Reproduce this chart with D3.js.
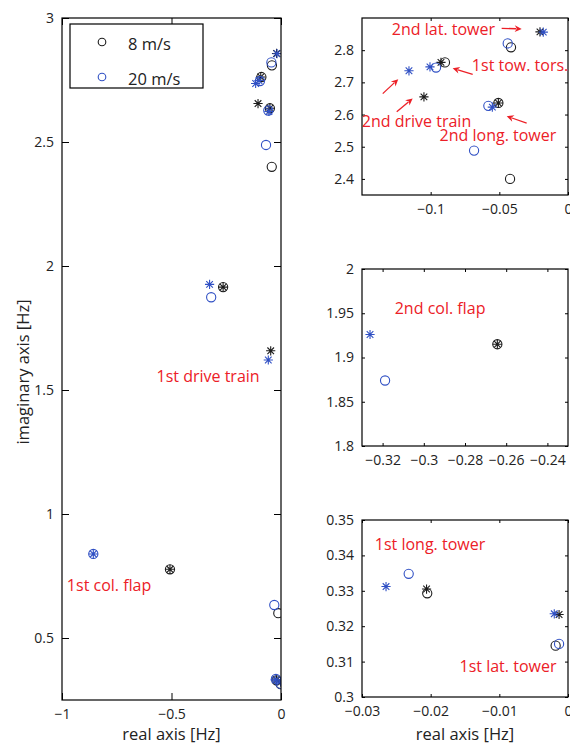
<!DOCTYPE html>
<html>
<head>
<meta charset="utf-8">
<script src="https://cdn.jsdelivr.net/npm/d3@7"></script>
<style>
  html, body { margin: 0; padding: 0; background: #fff; }
  svg { display: block; font-family: "Open Sans", "DejaVu Sans", sans-serif; }
</style>
</head>
<body>
<svg id="chart" width="570" height="744"></svg>
<script>
// Eigenvalues [real part, imaginary part] in Hz
const legendLabels = ["8 m/s", "20 m/s"];

const circles8 = [
  [-0.0018, 0.3145], [-0.0205, 0.3293], [-0.0123, 0.600], [-0.507, 0.777],
  [-0.2643, 1.915], [-0.0422, 2.400], [-0.0507, 2.636], [-0.0896, 2.762],
  [-0.0415, 2.809]
];
const stars8 = [
  [-0.0013, 0.3233], [-0.0206, 0.3305], [-0.507, 0.777], [-0.047, 1.658],
  [-0.2643, 1.915], [-0.1049, 2.655], [-0.0507, 2.636], [-0.0925, 2.762],
  [-0.0204, 2.857]
];
const circles20 = [
  [-0.0013, 0.3150], [-0.0232, 0.3348], [-0.0306, 0.633], [-0.857, 0.839],
  [-0.3188, 1.874], [-0.0684, 2.488], [-0.0580, 2.627], [-0.0961, 2.746],
  [-0.0439, 2.821]
];
const stars20 = [
  [-0.0020, 0.3235], [-0.0265, 0.3312], [-0.857, 0.839], [-0.058, 1.621],
  [-0.3261, 1.926], [-0.0551, 2.623], [-0.1005, 2.748], [-0.1158, 2.736],
  [-0.0180, 2.856]
];

// Axis tick values
const mainXTicks = [-1, -0.5, 0];
const mainYTicks = [0.5, 1, 1.5, 2, 2.5, 3];
const topXTicks = [-0.1, -0.05, 0];
const topYTicks = [2.4, 2.5, 2.6, 2.7, 2.8];
const midXTicks = [-0.32, -0.3, -0.28, -0.26, -0.24];
const midYTicks = [1.8, 1.85, 1.9, 1.95, 2];
const lowXTicks = [-0.03, -0.02, -0.01, 0];
const lowYTicks = [0.3, 0.31, 0.32, 0.33, 0.34, 0.35];

// Mode labels: [text, real, imag] (text centre in data units)
const mainNotes = [["1st drive train", -0.333, 1.556], ["1st col. flap", -0.785, 0.714]];
const topNotes = [
  ["2nd lat. tower", -0.0907, 2.866], ["1st tow. tors.", -0.0349, 2.752],
  ["2nd drive train", -0.1103, 2.580], ["2nd long. tower", -0.0510, 2.536]
];
const midNotes = [["2nd col. flap", -0.2921, 1.9556]];
const lowNotes = [["1st long. tower", -0.0201, 0.3431], ["1st lat. tower", -0.00874, 0.3086]];
// Arrows: [tail re, tail im, head re, head im]
const topArrows = [
  [-0.0483, 2.868, -0.0337, 2.866],
  [-0.0694, 2.725, -0.0840, 2.744],
  [-0.1349, 2.665, -0.1236, 2.710],
  [-0.1247, 2.609, -0.1131, 2.650],
  [-0.0301, 2.573, -0.0446, 2.595]
];

const BLACK = "#1c1c1c";
const BLUE = "#3050c4";
const RED = "#ec2027";

const svg = d3.select("#chart");

const fmt = v => (v === 0 ? "0" : (v < 0 ? "\u2212" : "") + String(+Math.abs(v).toFixed(4)));

const starPath = (a => {
  const b = a * 0.72;
  return `M${-a},0H${a}M0,${-a}V${a}M${-b},${-b}L${b},${b}M${-b},${b}L${b},${-b}`;
})(4.6);

let clipId = 0;
function panel(opt) {
  const { left, top, width, height, xDomain, yDomain, xTicks, yTicks, tick } = opt;
  const x = d3.scaleLinear().domain(xDomain).range([left, left + width]);
  const y = d3.scaleLinear().domain(yDomain).range([top + height, top]);
  const g = svg.append("g");

  const id = "clip" + (clipId++);
  g.append("clipPath").attr("id", id)
    .append("rect").attr("x", left).attr("y", top).attr("width", width).attr("height", height);

  const styleAxis = sel => {
    sel.select(".domain").remove();
    sel.selectAll("line").attr("stroke", "#000").attr("stroke-width", 1);
    sel.selectAll("text").attr("fill", "#222").style("font-size", "14px")
      .style("font-family", '"Open Sans", sans-serif');
  };

  g.append("g").attr("transform", `translate(0,${top + height})`)
    .call(d3.axisBottom(x).tickValues(xTicks).tickFormat(fmt).tickSize(-tick).tickSizeOuter(0).tickPadding(9))
    .call(styleAxis);
  g.append("g").attr("transform", `translate(0,${top})`)
    .call(d3.axisTop(x).tickValues(xTicks).tickFormat("").tickSize(-tick).tickSizeOuter(0))
    .call(styleAxis);
  g.append("g").attr("transform", `translate(${left},0)`)
    .call(d3.axisLeft(y).tickValues(yTicks).tickFormat(fmt).tickSize(-tick).tickSizeOuter(0).tickPadding(8))
    .call(styleAxis);
  g.append("g").attr("transform", `translate(${left + width},0)`)
    .call(d3.axisRight(y).tickValues(yTicks).tickFormat("").tickSize(-tick).tickSizeOuter(0))
    .call(styleAxis);

  const plot = g.append("g").attr("clip-path", `url(#${id})`);
  const drawCircles = (data, color) => plot.append("g").selectAll("circle").data(data).join("circle")
    .attr("cx", d => x(d[0])).attr("cy", d => y(d[1])).attr("r", 4.6)
    .attr("fill", "none").attr("stroke", color).attr("stroke-width", 1.1);
  const drawStars = (data, color) => plot.append("g").selectAll("path").data(data).join("path")
    .attr("transform", d => `translate(${x(d[0])},${y(d[1])})`)
    .attr("d", starPath).attr("fill", "none").attr("stroke", color).attr("stroke-width", 1.1);

  drawCircles(circles8, BLACK);
  drawStars(stars8, BLACK);
  drawCircles(circles20, BLUE);
  drawStars(stars20, BLUE);

  g.append("rect").attr("x", left).attr("y", top).attr("width", width).attr("height", height)
    .attr("fill", "none").attr("stroke", "#000").attr("stroke-width", 1.2);

  (opt.notes || []).forEach(n => {
    g.append("text").attr("x", x(n[1])).attr("y", y(n[2])).attr("dy", "0.36em")
      .attr("text-anchor", "middle").attr("fill", RED).style("font-size", "16px").text(n[0]);
  });
  (opt.arrows || []).forEach(a => {
    const x1 = x(a[0]), y1 = y(a[1]), x2 = x(a[2]), y2 = y(a[3]);
    const ang = Math.atan2(y2 - y1, x2 - x1);
    const L = 7, W = 3.4;
    const bx = x2 - L * Math.cos(ang), by = y2 - L * Math.sin(ang);
    g.append("line").attr("x1", x1).attr("y1", y1).attr("x2", bx + 1.5 * Math.cos(ang)).attr("y2", by + 1.5 * Math.sin(ang))
      .attr("stroke", RED).attr("stroke-width", 1.3);
    const px = -Math.sin(ang), py = Math.cos(ang);
    g.append("path")
      .attr("d", `M${x2},${y2}L${bx + W * px},${by + W * py}L${x2 - 0.7 * L * Math.cos(ang)},${y2 - 0.7 * L * Math.sin(ang)}L${bx - W * px},${by - W * py}Z`)
      .attr("fill", RED);
  });
  return { x, y, g };
}

// Full view
panel({
  left: 62, top: 18, width: 219, height: 682,
  xDomain: [-1, 0], yDomain: [0.25, 3], xTicks: mainXTicks, yTicks: mainYTicks, tick: 7,
  notes: mainNotes
});
// Zoomed views
panel({
  left: 362, top: 18, width: 206, height: 177,
  xDomain: [-0.15, 0], yDomain: [2.35, 2.9], xTicks: topXTicks, yTicks: topYTicks, tick: 3,
  notes: topNotes, arrows: topArrows
});
panel({
  left: 362, top: 269, width: 206, height: 177,
  xDomain: [-0.33, -0.23], yDomain: [1.8, 2], xTicks: midXTicks, yTicks: midYTicks, tick: 3,
  notes: midNotes
});
panel({
  left: 362, top: 520, width: 206, height: 177,
  xDomain: [-0.03, 0], yDomain: [0.3, 0.35], xTicks: lowXTicks, yTicks: lowYTicks, tick: 3,
  notes: lowNotes
});

// Legend
const leg = svg.append("g");
leg.append("rect").attr("x", 70).attr("y", 24).attr("width", 133).attr("height", 64)
  .attr("fill", "#fff").attr("stroke", "#000").attr("stroke-width", 1.2);
[BLACK, BLUE].forEach((c, i) => {
  const cy = 42 + i * 35;
  leg.append("circle").attr("cx", 102).attr("cy", cy).attr("r", 3.8)
    .attr("fill", "none").attr("stroke", c).attr("stroke-width", 1.1);
  leg.append("text").attr("x", 128).attr("y", cy + 8).attr("fill", "#222")
    .style("font-size", "16.5px").text(legendLabels[i]);
});

// Axis titles
svg.append("text").attr("x", 171.5).attr("y", 740).attr("text-anchor", "middle")
  .attr("fill", "#222").style("font-size", "16.5px").text("real axis [Hz]");
svg.append("text").attr("x", 465).attr("y", 740).attr("text-anchor", "middle")
  .attr("fill", "#222").style("font-size", "16.5px").text("real axis [Hz]");
svg.append("text").attr("transform", "translate(29,372) rotate(-90)").attr("text-anchor", "middle")
  .attr("fill", "#222").style("font-size", "16.5px").text("imaginary axis [Hz]");
</script>
</body>
</html>
